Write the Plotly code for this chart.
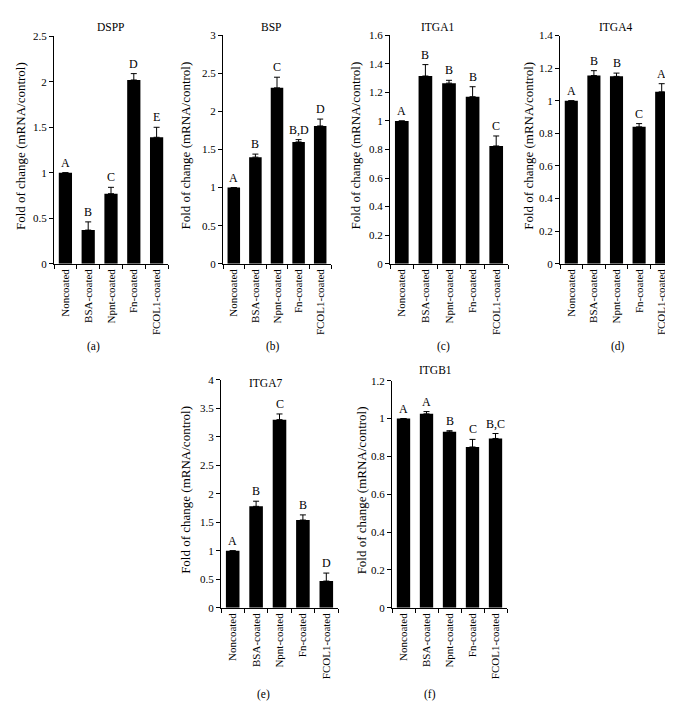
import plotly.graph_objects as go

categories = ["Noncoated", "BSA-coated", "Npnt-coated", "Fn-coated", "FCOL1-coated"]

genes = ["DSPP", "BSP", "ITGA1", "ITGA4", "ITGA7", "ITGB1"]
panel_tags = ["(a)", "(b)", "(c)", "(d)", "(e)", "(f)"]

dspp_vals = [1.0, 0.37, 0.77, 2.02, 1.39]
dspp_err = [0.0, 0.09, 0.07, 0.07, 0.11]
dspp_letters = ["A", "B", "C", "D", "E"]

bsp_vals = [1.0, 1.40, 2.31, 1.60, 1.81]
bsp_err = [0.0, 0.04, 0.14, 0.03, 0.09]
bsp_letters = ["A", "B", "C", "B,D", "D"]

itga1_vals = [1.0, 1.315, 1.265, 1.17, 0.825]
itga1_err = [0.0, 0.08, 0.02, 0.07, 0.07]
itga1_letters = ["A", "B", "B", "B", "C"]

itga4_vals = [1.0, 1.155, 1.15, 0.84, 1.055]
itga4_err = [0.0, 0.03, 0.02, 0.02, 0.05]
itga4_letters = ["A", "B", "B", "C", "A"]

itga7_vals = [1.0, 1.78, 3.30, 1.54, 0.47]
itga7_err = [0.0, 0.09, 0.10, 0.09, 0.14]
itga7_letters = ["A", "B", "C", "B", "D"]

itgb1_vals = [1.0, 1.025, 0.93, 0.85, 0.895]
itgb1_err = [0.0, 0.012, 0.006, 0.04, 0.026]
itgb1_letters = ["A", "A", "B", "C", "B,C"]

y_max = [2.5, 3, 1.6, 1.4, 4, 1.2]
y_dtick = [0.5, 0.5, 0.2, 0.2, 0.5, 0.2]

vals = [dspp_vals, bsp_vals, itga1_vals, itga4_vals, itga7_vals, itgb1_vals]
errs = [dspp_err, bsp_err, itga1_err, itga4_err, itga7_err, itgb1_err]
letters = [dspp_letters, bsp_letters, itga1_letters, itga4_letters, itga7_letters, itgb1_letters]

W, H = 673, 714
# plot area boxes in pixels: (left, right, top, bottom)
boxes = [
    (46, 160, 22.7, 254),
    (215, 323, 21.7, 254),
    (382, 500, 21.7, 254),
    (552, 665, 22, 254),
    (213, 330, 372, 604),
    (384, 499, 373, 604),
]
title_pos = [(103, 13), (263, 13), (430, 13), (607, 13), (257, 375), (427, 362)]
tag_pos = [(85, 338), (265, 338), (435, 338), (610, 338), (255, 692), (422, 692)]
ytitle_x = [12, 178, 348, 521, 178, 353]

FONT = "Liberation Serif, Times New Roman, serif"
fig = go.Figure()
annotations = []
layout_axes = {}

for i in range(6):
    xa = "x" if i == 0 else f"x{i+1}"
    ya = "y" if i == 0 else f"y{i+1}"
    fig.add_trace(go.Bar(
        x=categories, y=vals[i], xaxis=xa, yaxis=ya,
        marker=dict(color="black", line=dict(width=0)),
        error_y=dict(type="data", symmetric=False, array=errs[i],
                     arrayminus=[0] * 5, color="black", thickness=1, width=3),
        showlegend=False, hoverinfo="skip",
    ))
    l, r, t, b = boxes[i]
    key = "" if i == 0 else str(i + 1)
    layout_axes["xaxis" + key] = dict(
        domain=[l / W, r / W], anchor=ya, range=[-0.5, 4.5],
        showline=True, linecolor="black", linewidth=1,
        ticks="outside", tickson="boundaries", ticklen=4, tickcolor="black",
        tickangle=-90, tickfont=dict(family=FONT, size=11, color="black"),
        showgrid=False, zeroline=False, fixedrange=True,
    )
    layout_axes["yaxis" + key] = dict(
        domain=[1 - b / H, 1 - t / H], anchor=xa, range=[0, y_max[i]],
        dtick=y_dtick[i], tick0=0,
        showline=True, linecolor="black", linewidth=1,
        ticks="outside", ticklen=4, tickcolor="black",
        tickfont=dict(family=FONT, size=11, color="black"),
        showgrid=False, zeroline=False, fixedrange=True,
    )
    for j in range(5):
        annotations.append(dict(
            x=categories[j], y=vals[i][j] + errs[i][j], xref=xa, yref=ya,
            text=letters[i][j], showarrow=False, yanchor="bottom", yshift=1,
            font=dict(family=FONT, size=12, color="#000000"),
        ))
    tx, ty = title_pos[i]
    annotations.append(dict(x=tx / W, y=1 - ty / H, xref="paper", yref="paper",
                            text=genes[i], showarrow=False, xanchor="center", yanchor="middle",
                            font=dict(family=FONT, size=11.5, color="black")))
    gx, gy = tag_pos[i]
    annotations.append(dict(x=gx / W, y=1 - gy / H, xref="paper", yref="paper",
                            text=panel_tags[i], showarrow=False, xanchor="center", yanchor="middle",
                            font=dict(family=FONT, size=11.5, color="black")))
    annotations.append(dict(x=ytitle_x[i] / W, y=1 - ((t + b) / 2 - 4) / H, xref="paper", yref="paper",
                            text="Fold of change (mRNA/control)", showarrow=False, textangle=-90,
                            xanchor="center", yanchor="middle",
                            font=dict(family=FONT, size=13, color="black")))

fig.update_layout(
    width=W, height=H, margin=dict(l=0, r=0, t=0, b=0),
    paper_bgcolor="white", plot_bgcolor="white",
    bargap=0.42, annotations=annotations,
    font=dict(family=FONT, color="black"),
    **layout_axes,
)

fig.write_html("out.html", config={"displayModeBar": False})
